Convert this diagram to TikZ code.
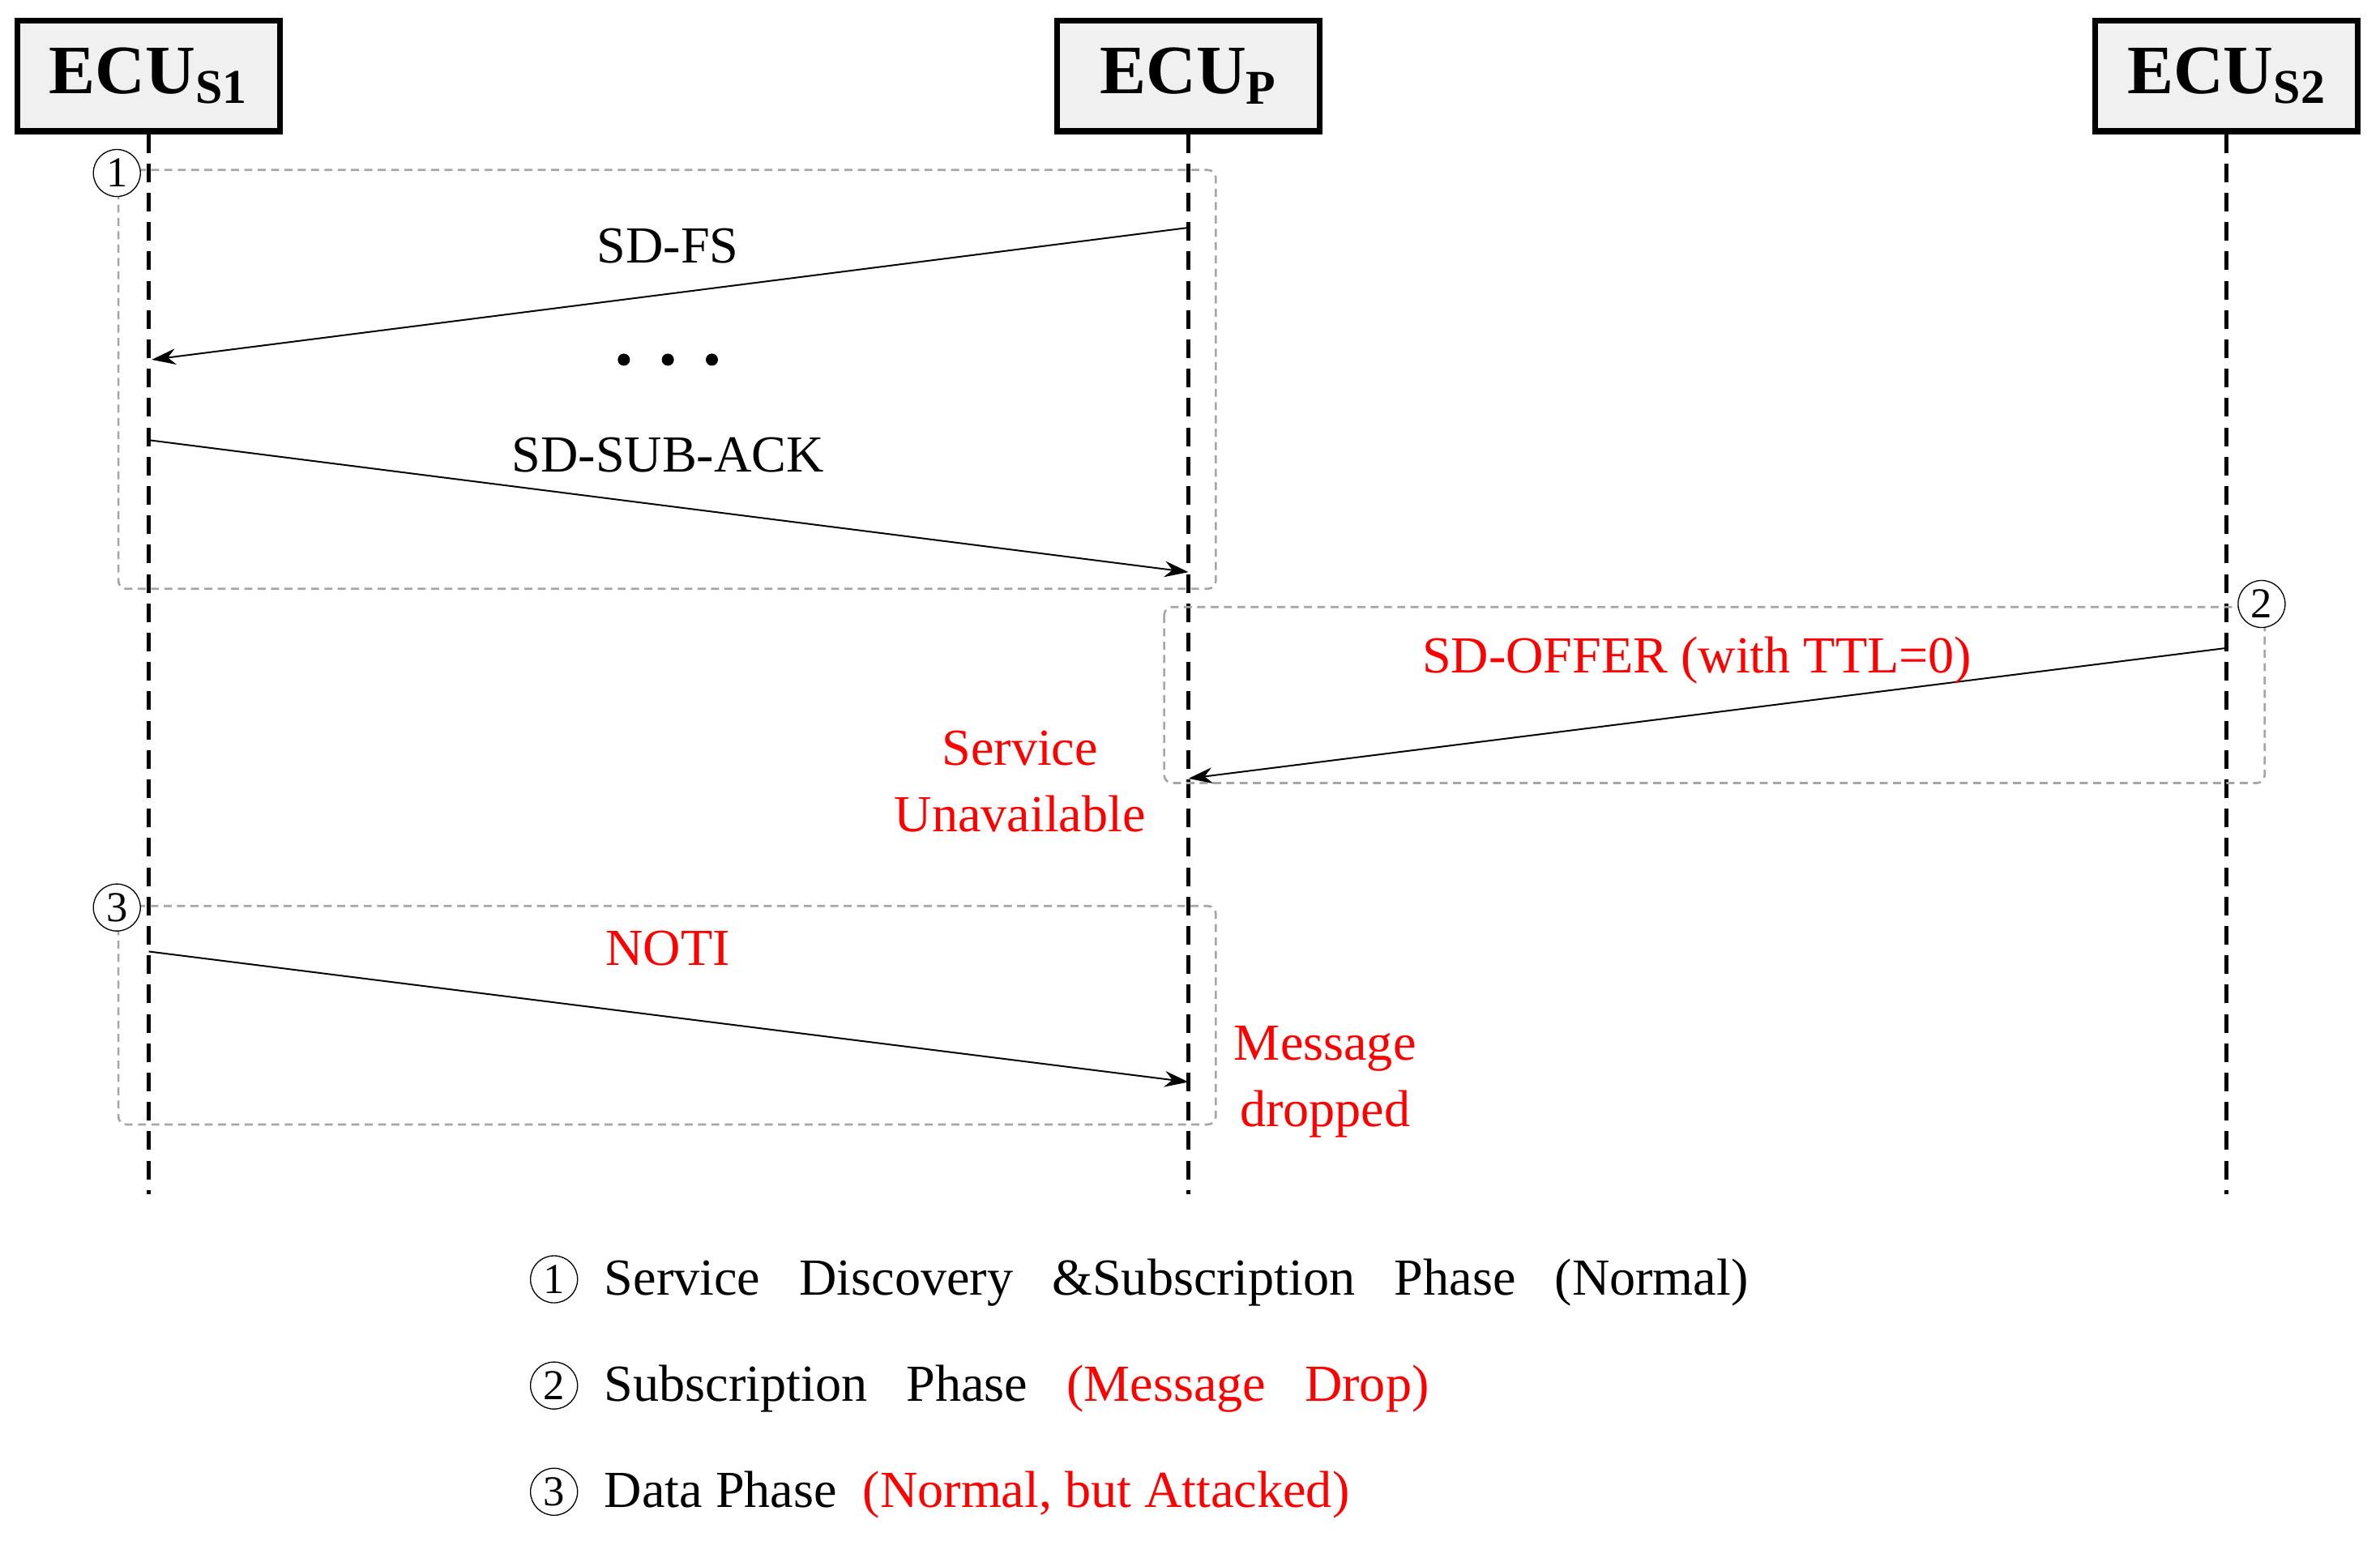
\documentclass[tikz,border=0pt]{standalone}
\usepackage{fontspec}
\setmainfont{Liberation Serif}
\usetikzlibrary{arrows.meta}
\begin{document}
\begin{tikzpicture}[x=0.02cm,y=-0.02cm,
 ecu/.style={draw,line width=2.2pt,fill=gray!12,minimum width=3.46cm,minimum height=1.46cm,font=\fontsize{26}{30}\selectfont\bfseries},
 life/.style={line width=1.6pt,dash pattern=on 7pt off 4pt},
 phase/.style={draw=gray!70,line width=0.8pt,dash pattern=on 3pt off 2pt,rounded corners=3pt},
 msg/.style={-{Stealth[length=9pt,width=6pt]},line width=0.6pt},
 num/.style={circle,draw,fill=white,inner sep=0pt,minimum size=0.62cm,font=\fontsize{16}{18}\selectfont},
 lbl/.style={font=\fontsize{19.5}{23}\selectfont},
 red/.style={text=red}]
\useasboundingbox (0,0) rectangle (1568,1018);
\node[ecu] (s1) at (98,50) {ECU\textsubscript{S1}};
\node[ecu] (p) at (783,50) {ECU\textsubscript{P}};
\node[ecu] (s2) at (1467,50) {ECU\textsubscript{S2}};
\coordinate (s1e) at (98,787); \coordinate (pe) at (783,787); \coordinate (s2e) at (1467,787);
\draw[life] (s1.south) -- (s1e);
\draw[life] (p.south) -- (pe);
\draw[life] (s2.south) -- (s2e);
\draw[phase] (78,112) rectangle (801,388);
\draw[phase] (767,400) rectangle (1492,516);
\draw[phase] (78,597) rectangle (801,741);
\node[num] (n1) at (77,114) {1};
\node[num] (n2) at (1490,398) {2};
\node[num] (n3) at (77,598) {3};
\coordinate (a1) at (783,150); \coordinate (b1) at (100,237);
\draw[msg] (a1) -- (b1);
\node[lbl] (t1) at (440,162) {SD-FS};
\node (dots) at (440,237) {\tikz[x=0.02cm,y=0.02cm]{\fill (0,0) circle (4) (29,0) circle (4) (58,0) circle (4);}};
\coordinate (a2) at (98,290); \coordinate (b2) at (783,377);
\draw[msg] (a2) -- (b2);
\node[lbl] (t2) at (440,300) {SD-SUB-ACK};
\coordinate (a3) at (1467,427); \coordinate (b3) at (783,513);
\draw[msg] (a3) -- (b3);
\node[lbl,red] (t3) at (1118,435) {SD-OFFER (with TTL=0)};
\node[lbl,red,align=center] (t4) at (672,515) {Service\\[2pt]Unavailable};
\coordinate (a4) at (98,627); \coordinate (b4) at (783,713);
\draw[msg] (a4) -- (b4);
\node[lbl,red] (t5) at (440,625) {NOTI};
\node[lbl,red,align=center] (t6) at (873,713) {Message\\[2pt]dropped};
\node[num] (l1) at (365,843) {1};
\node[num] (l2) at (365,913) {2};
\node[num] (l3) at (365,983) {3};
\node[lbl,anchor=west] (lt1) at (392,845) {Service\ \ \ Discovery\ \ \ \&Subscription\ \ \ Phase\ \ \ (Normal)};
\node[lbl,anchor=west] (lt2) at (392,915) {Subscription\ \ \ Phase\ \ \ \textcolor{red}{(Message\ \ \ Drop)}};
\node[lbl,anchor=west] (lt3) at (392,985) {Data Phase\ \ \textcolor{red}{(Normal,\ but Attacked)}};
\end{tikzpicture}
\end{document}
